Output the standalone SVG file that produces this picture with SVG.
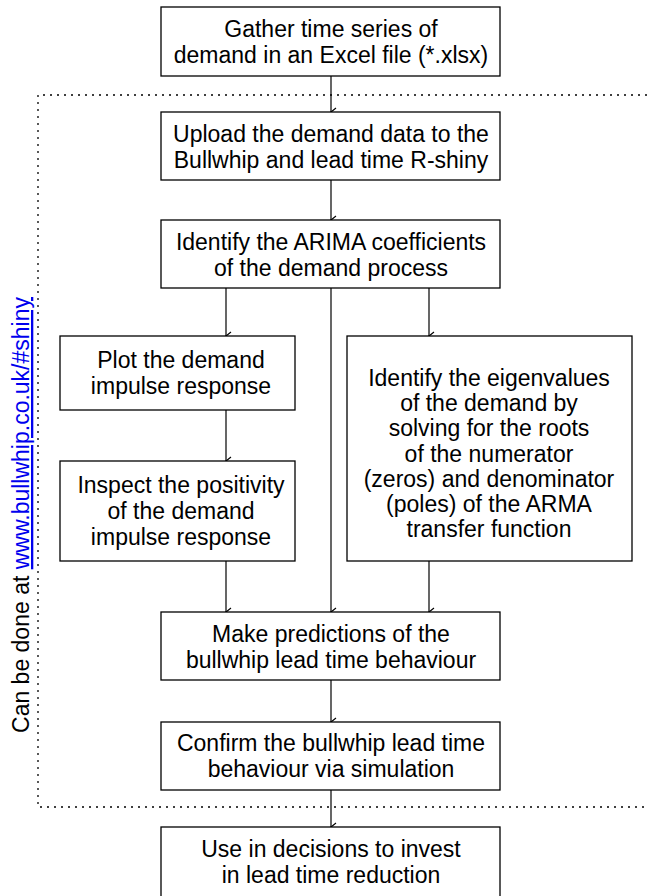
<svg xmlns="http://www.w3.org/2000/svg" width="647" height="896" viewBox="0 0 647 896">
<style>
.box{fill:#fff;stroke:#000;stroke-width:1.3}
.t{font-family:"Liberation Sans",Arial,sans-serif;font-size:23px;fill:#000;text-anchor:middle}
.c{stroke:#000;stroke-width:1.2;fill:none}
</style>
<defs>
<marker id="ah" markerWidth="10" markerHeight="10" refX="5" refY="8" orient="auto-start-reverse" markerUnits="userSpaceOnUse" viewBox="0 0 10 10">
<path d="M1,3 L5,8 L9,3" fill="none" stroke="#000" stroke-width="1.2"/>
</marker>
</defs>
<rect width="647" height="896" fill="#fff"/>
<path d="M647,95 H38 V807 H647" fill="none" stroke="#000" stroke-width="1.3" stroke-dasharray="2,5"/>
<text transform="translate(29,515) rotate(-90)" class="t">Can be done at <tspan fill="#0000ee" text-decoration="underline">www.bullwhip.co.uk/#shiny</tspan></text>
<g id="connectors">
<line class="c" x1="331" y1="76" x2="331" y2="112" marker-end="url(#ah)"/>
<line class="c" x1="331" y1="180" x2="331" y2="220" marker-end="url(#ah)"/>
<line class="c" x1="226" y1="288" x2="226" y2="336" marker-end="url(#ah)"/>
<line class="c" x1="429" y1="288" x2="429" y2="336" marker-end="url(#ah)"/>
<line class="c" x1="331" y1="288" x2="331" y2="612" marker-end="url(#ah)"/>
<line class="c" x1="226" y1="410" x2="226" y2="461" marker-end="url(#ah)"/>
<line class="c" x1="226" y1="561" x2="226" y2="612" marker-end="url(#ah)"/>
<line class="c" x1="429" y1="561" x2="429" y2="612" marker-end="url(#ah)"/>
<line class="c" x1="331" y1="680" x2="331" y2="722" marker-end="url(#ah)"/>
<line class="c" x1="331" y1="790" x2="331" y2="827" marker-end="url(#ah)"/>
</g>
<g id="gather"><rect class="box" x="161" y="7" width="339" height="69"/>
<text class="t" x="331" y="37">Gather time series of</text><text class="t" x="331" y="63">demand in an Excel file (*.xlsx)</text></g>
<g id="upload"><rect class="box" x="161" y="112" width="339" height="68"/>
<text class="t" x="331" y="142">Upload the demand data to the</text><text class="t" x="331" y="168">Bullwhip and lead time R-shiny</text></g>
<g id="arima"><rect class="box" x="161" y="220" width="339" height="68"/>
<text class="t" x="331" y="250">Identify the ARIMA coefficients</text><text class="t" x="331" y="276">of the demand process</text></g>
<g id="plot"><rect class="box" x="60" y="336" width="235" height="74"/>
<text class="t" x="181" y="368">Plot the demand</text><text class="t" x="181" y="394">impulse response</text></g>
<g id="inspect"><rect class="box" x="60" y="461" width="235" height="100"/>
<text class="t" x="181" y="493">Inspect the positivity</text><text class="t" x="181" y="519">of the demand</text><text class="t" x="181" y="545">impulse response</text></g>
<g id="eigen"><rect class="box" x="347" y="336" width="285" height="225"/>
<text class="t" x="489" y="386">Identify the eigenvalues</text><text class="t" x="489" y="411">of the demand by</text><text class="t" x="489" y="436">solving for the roots</text><text class="t" x="489" y="462">of the numerator</text><text class="t" x="489" y="487">(zeros) and denominator</text><text class="t" x="489" y="512">(poles) of the ARMA</text><text class="t" x="489" y="537">transfer function</text></g>
<g id="predict"><rect class="box" x="161" y="612" width="339" height="68"/>
<text class="t" x="331" y="642">Make predictions of the</text><text class="t" x="331" y="668">bullwhip lead time behaviour</text></g>
<g id="confirm"><rect class="box" x="161" y="722" width="339" height="68"/>
<text class="t" x="331" y="751">Confirm the bullwhip lead time</text><text class="t" x="331" y="777">behaviour via simulation</text></g>
<g id="use"><rect class="box" x="161" y="827" width="339" height="75"/>
<text class="t" x="331" y="857">Use in decisions to invest</text><text class="t" x="331" y="883">in lead time reduction</text></g>
</svg>
